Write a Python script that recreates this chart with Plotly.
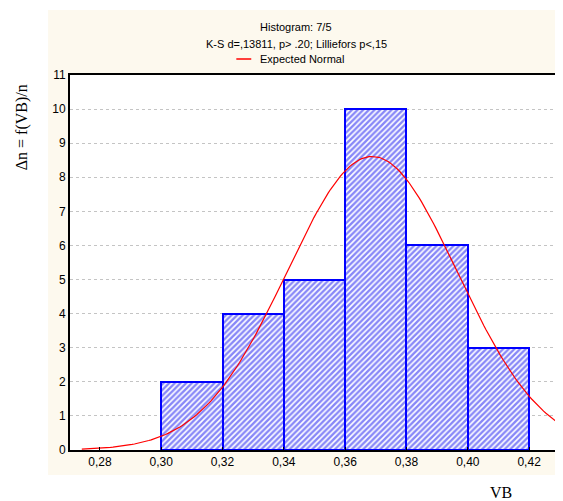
import numpy as np
import plotly.graph_objects as go

# Data
bin_left = [0.30, 0.32, 0.34, 0.36, 0.38, 0.40]
bin_width = 0.02
counts = [2, 4, 5, 10, 6, 3]
x_tick_vals = [0.28, 0.30, 0.32, 0.34, 0.36, 0.38, 0.40, 0.42]
x_tick_text = ["0,28", "0,30", "0,32", "0,34", "0,36", "0,38", "0,40", "0,42"]
y_tick_vals = list(range(0, 12))

# Expected normal parameters (fitted)
normal_mean = 0.3688
normal_sd = 0.0278
n_total = sum(counts)
curve_x = np.linspace(0.2741, 0.4294, 200)
curve_y = n_total * bin_width / (normal_sd * np.sqrt(2 * np.pi)) * np.exp(-0.5 * ((curve_x - normal_mean) / normal_sd) ** 2)

# page body has an 8px margin; reference pixel coords are converted below
OFF = 8
L, T, PW, PH = 70 - OFF, 75 - OFF, 490, 375
W, H = 563 - OFF, 501 - OFF


def px(x):
    return (x - OFF - L) / PW


def py(y):
    return (T + PH - (y - OFF)) / PH


fig = go.Figure()
fig.add_trace(go.Bar(
    x=[b + bin_width / 2 for b in bin_left], y=counts, width=bin_width,
    marker=dict(color="white", line=dict(color="#0000FF", width=2),
                pattern=dict(shape="/", fgcolor="#1010F0", bgcolor="white", size=4, solidity=0.6)),
    showlegend=False,
))
fig.add_trace(go.Scatter(x=curve_x, y=curve_y, mode="lines",
                         line=dict(color="#FF0000", width=1.2), name="Expected Normal", showlegend=False))

font_main = dict(family="Liberation Sans, Arial, sans-serif", size=11, color="black")
tick_font = dict(family="Liberation Sans, Arial, sans-serif", size=12, color="black")

fig.update_layout(
    width=W, height=H,
    margin=dict(l=L, r=W - L - PW, t=T, b=H - T - PH),
    paper_bgcolor="white", plot_bgcolor="white",
    bargap=0,
    font=font_main,
    xaxis=dict(range=[0.27025, 0.42942], tickvals=x_tick_vals, ticktext=x_tick_text,
               showgrid=False, zeroline=False, showline=True, linecolor="black", linewidth=2,
               mirror=True, ticks="inside", ticklen=3, tickcolor="black", tickfont=tick_font),
    yaxis=dict(range=[0, 11], tickvals=y_tick_vals, showgrid=True, gridcolor="#C4C4C4",
               griddash="dot", gridwidth=1, zeroline=False, showline=True, linecolor="black",
               linewidth=2, mirror=True, ticks="", tickfont=tick_font),
    shapes=[
        dict(type="rect", xref="paper", yref="paper", x0=px(48), x1=px(566), y0=py(475), y1=py(10),
             fillcolor="#FDF9EE", line=dict(width=0), layer="below"),
        dict(type="rect", xref="paper", yref="paper", x0=0, x1=1, y0=0, y1=1,
             fillcolor="white", line=dict(width=0), layer="below"),
        dict(type="line", xref="paper", yref="paper", x0=px(237), x1=px(252),
             y0=py(59), y1=py(59), line=dict(color="#FF0000", width=1.5)),
    ],
    annotations=[
        dict(text="Histogram: 7/5", xref="paper", yref="paper", x=px(297), y=py(27),
             showarrow=False, xanchor="center", yanchor="middle", font=font_main),
        dict(text="K-S d=,13811, p> .20; Lilliefors p<,15", xref="paper", yref="paper",
             x=px(297), y=py(44), showarrow=False, xanchor="center", yanchor="middle", font=font_main),
        dict(text="Expected Normal", xref="paper", yref="paper", x=px(259), y=py(59),
             showarrow=False, xanchor="left", yanchor="middle", font=font_main),
        dict(text="Δn = f(VB)/n", xref="paper", yref="paper", x=px(22), y=py(127),
             showarrow=False, textangle=-90, xanchor="center", yanchor="middle",
             font=dict(family="Liberation Serif, Times New Roman, serif", size=16, color="black")),
        dict(text="VB", xref="paper", yref="paper", x=px(503), y=py(492),
             showarrow=False, xanchor="center", yanchor="middle",
             font=dict(family="Liberation Serif, Times New Roman, serif", size=16, color="black")),
    ],
)

fig.write_html("out.html")
